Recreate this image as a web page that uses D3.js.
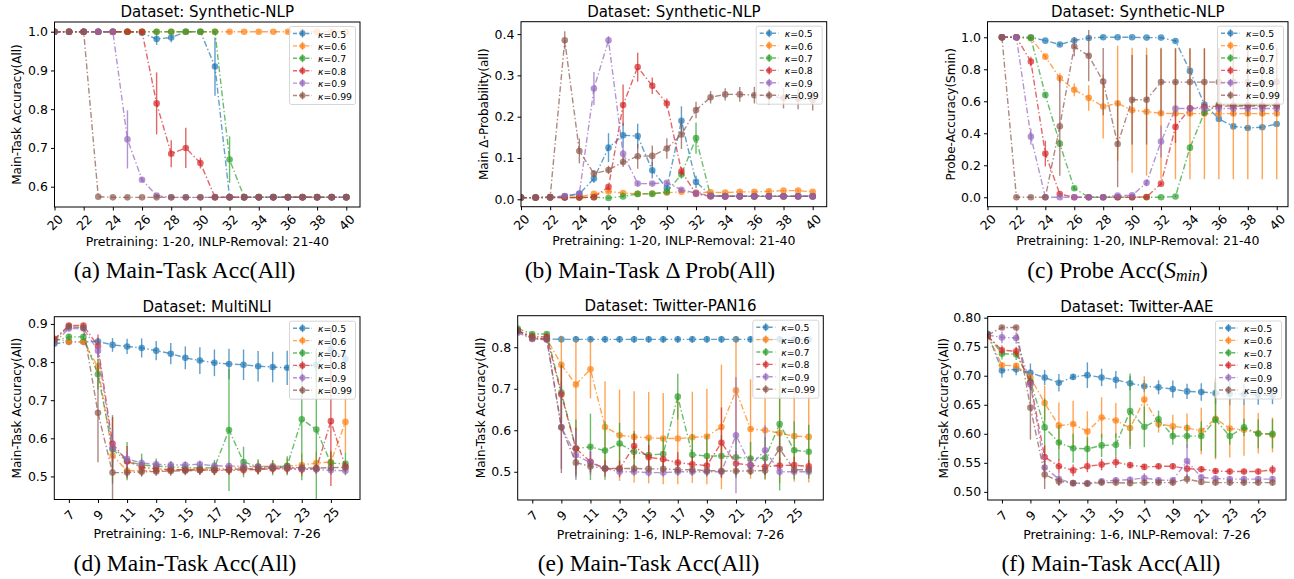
<!DOCTYPE html>
<html>
<head>
<meta charset="utf-8">
<script src="https://cdn.jsdelivr.net/npm/d3@7"></script>
<style>
  body { margin: 0; background: #fff; }
  text { font-family: "DejaVu Sans", sans-serif; }
</style>
</head>
<body>
<svg width="1294" height="579"></svg>
<script>

const kappas = ["0.5", "0.6", "0.7", "0.8", "0.9", "0.99"];
const colors = ["#1f77b4", "#ff7f0e", "#2ca02c", "#d62728", "#9467bd", "#8c564b"];

// x values (epochs)
const synthEpochs = [20,21,22,23,24,25,26,27,28,29,30,31,32,33,34,35,36,37,38,39,40];
const probeEpochs = [21,22,23,24,25,26,27,28,29,30,31,32,33,34,35,36,37,38,39,40];
const realEpochs  = [6,7,8,9,10,11,12,13,14,15,16,17,18,19,20,21,22,23,24,25,26];

const synthTicks = [20,22,24,26,28,30,32,34,36,38,40];
const realTicks  = [7,9,11,13,15,17,19,21,23,25];

// (a) Synthetic-NLP main-task accuracy, one row per kappa
const synthAcc = [
  [1,1,1,1,1,1,0.997,0.981,0.985,1,1,0.91,0.573,0.573,0.573,0.573,0.573,0.573,0.573,0.573,0.573],
  [1,1,1,1,1,1,1,1,1,1,1,1,1,1,1,1,1,1,1,1,1],
  [1,1,1,1,1,1,1,1,1,1,1,1,0.67,0.573,0.573,0.573,0.573,0.573,0.573,0.573,0.573],
  [1,1,1,1,1,1,1,0.815,0.685,0.70,0.661,0.573,0.573,0.573,0.573,0.573,0.573,0.573,0.573,0.573,0.573],
  [1,1,1,1,1,0.722,0.618,0.577,0.5725,0.5725,0.5725,0.5725,0.5725,0.5725,0.5725,0.5725,0.5725,0.5725,0.5725,0.5725,0.5725],
  [1,1,1,0.574,0.5725,0.5725,0.5725,0.5725,0.5725,0.5725,0.5725,0.5725,0.5725,0.5725,0.5725,0.5725,0.5725,0.5725,0.5725,0.5725,0.5725]
];
const synthAccErr = [
  [0,0,0,0,0,0,0.004,0.015,0.012,0,0,0.075,0,0,0,0,0,0,0,0,0],
  [0,0,0,0,0,0,0,0,0,0,0,0,0,0,0,0,0,0,0,0,0],
  [0,0,0,0,0,0,0,0,0,0,0,0,0.06,0,0,0,0,0,0,0,0],
  [0,0,0,0,0,0,0,0.08,0.035,0.052,0.014,0,0,0,0,0,0,0,0,0,0],
  [0,0,0,0,0,0.075,0.005,0.003,0,0,0,0,0,0,0,0,0,0,0,0,0],
  [0,0,0,0,0,0,0,0,0,0,0,0,0,0,0,0,0,0,0,0,0]
];

// (b) Synthetic-NLP main delta-probability
const synthDelta = [
  [0.004,0.004,0.005,0.007,0.013,0.05,0.125,0.155,0.153,0.07,0.027,0.19,0.042,0.01,0.008,0.008,0.008,0.008,0.008,0.008,0.008],
  [0.004,0.004,0.005,0.005,0.006,0.013,0.019,0.015,0.013,0.014,0.016,0.018,0.016,0.017,0.016,0.018,0.018,0.019,0.021,0.021,0.018],
  [0.004,0.004,0.004,0.004,0.004,0.005,0.003,0.007,0.013,0.013,0.018,0.06,0.148,0.008,0.007,0.007,0.007,0.007,0.007,0.007,0.007],
  [0.004,0.004,0.004,0.004,0.004,0.005,0.03,0.228,0.32,0.275,0.232,0.068,0.013,0.007,0.007,0.007,0.007,0.007,0.007,0.007,0.007],
  [0.004,0.004,0.005,0.008,0.014,0.268,0.385,0.11,0.038,0.038,0.04,0.023,0.015,0.008,0.007,0.007,0.007,0.007,0.007,0.007,0.007],
  [0.004,0.004,0.006,0.385,0.117,0.062,0.071,0.09,0.104,0.105,0.123,0.157,0.216,0.247,0.254,0.254,0.252,0.25,0.245,0.243,0.24]
];
const synthDeltaErr = [
  [0,0,0,0,0.003,0.01,0.035,0.03,0.03,0.02,0.006,0.035,0.015,0.002,0.002,0.002,0.002,0.002,0.002,0.002,0.002],
  [0,0,0,0,0,0.003,0.004,0.003,0.002,0.002,0.003,0.003,0.003,0.003,0.003,0.003,0.003,0.003,0.003,0.003,0.003],
  [0,0,0,0,0,0,0,0.002,0.002,0.002,0.004,0.01,0.038,0.002,0.002,0.002,0.002,0.002,0.002,0.002,0.002],
  [0,0,0,0,0,0,0.006,0.05,0.035,0.02,0.012,0.01,0.003,0.002,0.002,0.002,0.002,0.002,0.002,0.002,0.002],
  [0,0,0,0.002,0.004,0.04,0.01,0.015,0.005,0.004,0.004,0.004,0.003,0.002,0.002,0.002,0.002,0.002,0.002,0.002,0.002],
  [0,0,0.002,0.022,0.03,0.008,0.01,0.012,0.03,0.025,0.025,0.035,0.02,0.015,0.015,0.018,0.02,0.022,0.025,0.025,0.025]
];

// (c) Synthetic-NLP probe accuracy (S_min)
const synthProbe = [
  [1,1,1,0.979,0.955,0.98,0.996,1,1,1,0.998,0.998,0.977,0.79,0.58,0.49,0.443,0.433,0.438,0.458],
  [1,1,0.995,0.879,0.745,0.672,0.621,0.567,0.587,0.544,0.535,0.525,0.523,0.523,0.523,0.523,0.523,0.523,0.523,0.523],
  [1,1,0.995,0.64,0.335,0.056,0,0,0,0,0,0,0.005,0.31,0.53,0.58,0.575,0.575,0.575,0.575],
  [1,1,0.848,0.273,0.02,0,0,0,0,0,0.002,0.085,0.44,0.556,0.565,0.57,0.57,0.57,0.57,0.57],
  [1,1,0.379,0,0,0,0,0,0.01,0.012,0.09,0.348,0.555,0.555,0.555,0.555,0.555,0.555,0.555,0.555],
  [1,0,0,0,0.444,0.942,0.885,0.723,0.333,0.61,0.61,0.72,0.72,0.72,0.72,0.72,0.72,0.72,0.72,0.72]
];
const synthProbeErr = [
  [0,0,0,0.005,0.008,0.01,0.005,0,0,0,0.003,0.003,0.008,0.02,0.02,0.015,0.012,0.01,0.01,0.01],
  [0,0,0.003,0.01,0.03,0.04,0.08,0.2,0.36,0.39,0.4,0.41,0.41,0.41,0.41,0.41,0.41,0.41,0.41,0.41],
  [0,0,0.005,0.01,0.02,0.01,0,0,0,0,0,0,0.003,0.02,0.02,0.01,0.005,0.005,0.005,0.005],
  [0,0,0.03,0.08,0.01,0,0,0,0,0,0.002,0.01,0.1,0.02,0.01,0.005,0.005,0.005,0.005,0.005],
  [0,0,0.05,0,0,0,0,0,0.005,0.005,0.02,0.1,0.01,0.005,0.005,0.005,0.005,0.005,0.005,0.005],
  [0,0,0,0,0.31,0.06,0.16,0.21,0.27,0.28,0.28,0.21,0.21,0.21,0.21,0.21,0.21,0.21,0.21,0.21]
];

// (d) MultiNLI main-task accuracy
const mnliAcc = [
  [0.848,0.853,0.853,0.854,0.845,0.841,0.837,0.83,0.822,0.811,0.804,0.798,0.795,0.793,0.789,0.787,0.785,0.79,0.792,0.835,0.808],
  [0.862,0.853,0.853,0.788,0.555,0.515,0.515,0.515,0.517,0.518,0.519,0.52,0.522,0.524,0.526,0.527,0.527,0.53,0.535,0.538,0.643],
  [0.855,0.866,0.866,0.768,0.571,0.54,0.53,0.527,0.525,0.523,0.522,0.523,0.622,0.538,0.525,0.523,0.528,0.65,0.623,0.535,0.533],
  [0.86,0.896,0.896,0.842,0.586,0.54,0.524,0.52,0.518,0.517,0.517,0.516,0.516,0.517,0.518,0.52,0.52,0.518,0.52,0.645,0.525],
  [0.85,0.888,0.888,0.83,0.575,0.546,0.535,0.532,0.53,0.53,0.532,0.528,0.527,0.527,0.526,0.525,0.523,0.52,0.518,0.516,0.515],
  [0.857,0.893,0.89,0.667,0.51,0.51,0.512,0.513,0.514,0.515,0.516,0.517,0.518,0.52,0.52,0.522,0.523,0.523,0.522,0.523,0.524]
];
const mnliAccErr = [
  [0.005,0.005,0.005,0.01,0.018,0.02,0.025,0.025,0.028,0.03,0.035,0.035,0.04,0.04,0.04,0.04,0.045,0.045,0.045,0.045,0.03],
  [0.005,0.005,0.005,0.02,0.02,0.01,0.008,0.008,0.008,0.008,0.01,0.01,0.012,0.012,0.015,0.015,0.02,0.03,0.03,0.03,0.08],
  [0.005,0.008,0.008,0.04,0.09,0.05,0.03,0.02,0.015,0.015,0.015,0.02,0.16,0.04,0.02,0.02,0.025,0.16,0.2,0.03,0.03],
  [0.005,0.006,0.006,0.03,0.07,0.04,0.015,0.012,0.012,0.012,0.012,0.012,0.012,0.012,0.012,0.012,0.012,0.012,0.012,0.17,0.012],
  [0.005,0.006,0.006,0.02,0.05,0.02,0.012,0.01,0.01,0.01,0.01,0.01,0.01,0.01,0.01,0.01,0.01,0.01,0.01,0.01,0.01],
  [0.005,0.006,0.006,0.13,0.07,0.015,0.012,0.012,0.012,0.012,0.012,0.012,0.012,0.012,0.012,0.012,0.012,0.012,0.012,0.012,0.012]
];

// (e) Twitter-PAN16 main-task accuracy
const panAcc = [
  [0.84,0.822,0.82,0.819,0.819,0.819,0.819,0.819,0.819,0.819,0.819,0.819,0.819,0.819,0.819,0.819,0.819,0.819,0.819,0.819,0.819],
  [0.84,0.82,0.82,0.758,0.71,0.747,0.608,0.588,0.584,0.582,0.58,0.58,0.583,0.585,0.608,0.696,0.603,0.6,0.593,0.586,0.584],
  [0.845,0.832,0.832,0.691,0.556,0.56,0.551,0.568,0.548,0.54,0.543,0.681,0.541,0.538,0.538,0.535,0.532,0.533,0.615,0.552,0.548],
  [0.84,0.826,0.825,0.686,0.556,0.524,0.508,0.507,0.562,0.535,0.53,0.522,0.518,0.515,0.57,0.52,0.516,0.512,0.515,0.516,0.513],
  [0.835,0.82,0.818,0.607,0.54,0.522,0.508,0.5,0.5,0.498,0.498,0.5,0.5,0.5,0.5,0.588,0.515,0.552,0.5,0.5,0.5],
  [0.84,0.823,0.82,0.607,0.522,0.513,0.508,0.508,0.508,0.507,0.507,0.505,0.505,0.503,0.502,0.502,0.502,0.503,0.555,0.505,0.505]
];
const panAccErr = [
  [0.005,0.008,0.008,0.008,0.008,0.008,0.008,0.008,0.008,0.008,0.008,0.008,0.008,0.008,0.008,0.008,0.008,0.008,0.008,0.008,0.008],
  [0.005,0.005,0.005,0.07,0.11,0.07,0.11,0.11,0.11,0.11,0.11,0.11,0.11,0.115,0.15,0.13,0.12,0.12,0.12,0.11,0.11],
  [0.005,0.005,0.005,0.07,0.07,0.08,0.07,0.05,0.05,0.04,0.04,0.055,0.05,0.05,0.05,0.05,0.04,0.05,0.16,0.07,0.065],
  [0.005,0.005,0.005,0.07,0.05,0.025,0.02,0.02,0.03,0.03,0.02,0.025,0.02,0.02,0.085,0.03,0.02,0.02,0.02,0.02,0.015],
  [0.005,0.005,0.005,0.1,0.06,0.03,0.01,0.01,0.01,0.01,0.01,0.01,0.01,0.01,0.01,0.14,0.02,0.06,0.01,0.01,0.01],
  [0.005,0.005,0.005,0.11,0.03,0.015,0.01,0.01,0.01,0.01,0.01,0.01,0.01,0.01,0.01,0.01,0.01,0.01,0.04,0.01,0.01]
];

// (f) Twitter-AAE main-task accuracy
const aaeAcc = [
  [0.772,0.709,0.711,0.705,0.697,0.688,0.698,0.701,0.697,0.693,0.687,0.682,0.68,0.677,0.673,0.672,0.67,0.669,0.668,0.667,0.666],
  [0.77,0.718,0.717,0.697,0.653,0.614,0.617,0.604,0.628,0.623,0.61,0.659,0.617,0.613,0.61,0.605,0.626,0.609,0.607,0.601,0.598],
  [0.77,0.738,0.737,0.69,0.611,0.585,0.575,0.574,0.58,0.581,0.639,0.612,0.625,0.596,0.596,0.596,0.624,0.596,0.611,0.6,0.6],
  [0.768,0.744,0.742,0.688,0.56,0.544,0.537,0.544,0.547,0.551,0.546,0.543,0.544,0.544,0.54,0.539,0.536,0.535,0.535,0.535,0.538],
  [0.77,0.766,0.765,0.685,0.542,0.522,0.515,0.515,0.518,0.52,0.521,0.524,0.52,0.52,0.553,0.525,0.523,0.522,0.522,0.522,0.522],
  [0.77,0.783,0.783,0.645,0.53,0.518,0.515,0.514,0.516,0.516,0.515,0.516,0.516,0.516,0.522,0.517,0.516,0.516,0.516,0.516,0.516]
];
const aaeAccErr = [
  [0.003,0.012,0.01,0.016,0.013,0.015,0.005,0.022,0.015,0.015,0.012,0.01,0.012,0.015,0.013,0.015,0.018,0.02,0.018,0.017,0.015],
  [0.003,0.005,0.005,0.01,0.03,0.04,0.04,0.035,0.035,0.03,0.03,0.04,0.015,0.02,0.025,0.04,0.07,0.05,0.045,0.035,0.03],
  [0.003,0.01,0.01,0.01,0.05,0.03,0.025,0.02,0.02,0.02,0.065,0.035,0.015,0.015,0.02,0.025,0.065,0.015,0.015,0.025,0.025],
  [0.003,0.008,0.008,0.01,0.02,0.012,0.01,0.01,0.01,0.01,0.005,0.005,0.005,0.005,0.005,0.005,0.005,0.005,0.005,0.005,0.008],
  [0.003,0.01,0.01,0.01,0.02,0.01,0.005,0.005,0.005,0.005,0.005,0.008,0.005,0.005,0.03,0.005,0.005,0.005,0.005,0.005,0.005],
  [0.003,0.003,0.003,0.055,0.025,0.008,0.005,0.005,0.005,0.005,0.005,0.005,0.005,0.005,0.008,0.005,0.005,0.005,0.005,0.005,0.005]
];

const synthXLabel = "Pretraining: 1-20, INLP-Removal: 21-40";
const realXLabel = "Pretraining: 1-6, INLP-Removal: 7-26";

const panels = [
  {id: "a", xs: synthEpochs, vals: synthAcc, errs: synthAccErr, title: "Dataset: Synthetic-NLP",
   ylabel: "Main-Task Accuracy(All)", xlabel: synthXLabel, xticks: synthTicks,
   yticks: [0.6,0.7,0.8,0.9,1.0], yfmt: ".1f", xdom: [20, 40.94], ydom: [0.5476, 1.025],
   left: 54.5, right: 360, top: 22, bottom: 207, ylabX: 17, cap: {x: 184.5, y: 270}},
  {id: "b", xs: synthEpochs, vals: synthDelta, errs: synthDeltaErr, title: "Dataset: Synthetic-NLP",
   ylabel: "Main \u0394-Probability(all)", xlabel: synthXLabel, xticks: synthTicks,
   yticks: [0,0.1,0.2,0.3,0.4], yfmt: ".1f", xdom: [20, 40.96], ydom: [-0.018, 0.43],
   left: 521, right: 826.7, top: 21.7, bottom: 206.7, ylabX: 484, cap: {x: 650, y: 270}},
  {id: "c", xs: probeEpochs, vals: synthProbe, errs: synthProbeErr, title: "Dataset: Synthetic-NLP",
   ylabel: "Probe-Accuracy(Smin)", xlabel: synthXLabel, xticks: synthTicks,
   yticks: [0,0.2,0.4,0.6,0.8,1.0], yfmt: ".1f", xdom: [20, 40.78], ydom: [-0.059, 1.0975],
   left: 987.5, right: 1288, top: 21.7, bottom: 206.7, ylabX: 951, cap: {x: 1117.5, y: 270}},
  {id: "d", xs: realEpochs, vals: mnliAcc, errs: mnliAccErr, title: "Dataset: MultiNLI",
   ylabel: "Main-Task Accuracy(All)", xlabel: realXLabel, xticks: realTicks,
   yticks: [0.5,0.6,0.7,0.8,0.9], yfmt: ".1f", xdom: [6, 27], ydom: [0.4395, 0.919],
   left: 54.3, right: 360, top: 316.7, bottom: 499.5, ylabX: 17, cap: {x: 185, y: 563}},
  {id: "e", xs: realEpochs, vals: panAcc, errs: panAccErr, title: "Dataset: Twitter-PAN16",
   ylabel: "Main-Task Accuracy(All)", xlabel: realXLabel, xticks: realTicks,
   yticks: [0.5,0.6,0.7,0.8], yfmt: ".1f", xdom: [6, 27], ydom: [0.432, 0.876],
   left: 517.7, right: 823.3, top: 315.7, bottom: 500, ylabX: 481, cap: {x: 648.5, y: 563}},
  {id: "f", xs: realEpochs, vals: aaeAcc, errs: aaeAccErr, title: "Dataset: Twitter-AAE",
   ylabel: "Main-Task Accuracy(All)", xlabel: realXLabel, xticks: realTicks,
   yticks: [0.5,0.55,0.6,0.65,0.7,0.75,0.8], yfmt: ".2f", xdom: [6, 26.95], ydom: [0.486, 0.802],
   left: 987.7, right: 1286, top: 316.5, bottom: 500, ylabX: 944, cap: {x: 1111, y: 563}}
];

const captions = {
  a: [["(a) Main-Task Acc(All)"]],
  b: [["(b) Main-Task \u0394 Prob(All)"]],
  c: [["(c) Probe Acc("], ["S", "i"], ["min", "sub"], [")"]],
  d: [["(d) Main-Task Acc(All)"]],
  e: [["(e) Main-Task Acc(All)"]],
  f: [["(f) Main-Task Acc(All)"]]
};

const svg = d3.select("svg");
const dashes = "6,2.4,1.4,2.4";
const alpha = 0.7;

function drawPanel(p) {
  const g = svg.append("g");
  const x = d3.scaleLinear().domain(p.xdom).range([p.left, p.right]);
  const y = d3.scaleLinear().domain(p.ydom).range([p.bottom, p.top]);

  g.append("clipPath").attr("id", "clip-" + p.id)
    .append("rect")
      .attr("x", p.left).attr("y", p.top)
      .attr("width", p.right - p.left).attr("height", p.bottom - p.top);

  const plot = g.append("g").attr("clip-path", `url(#clip-${p.id})`);

  const line = d3.line().x(d => x(d.x)).y(d => y(d.v));

  p.vals.forEach((vals, k) => {
    const pts = p.xs.map((xv, i) => ({x: xv, v: vals[i], e: p.errs[k][i]}));
    const sg = plot.append("g");

    sg.append("path").datum(pts)
      .attr("d", line)
      .attr("fill", "none")
      .attr("stroke", colors[k])
      .attr("stroke-width", 1.4)
      .attr("stroke-dasharray", dashes)
      .attr("opacity", alpha);

    sg.selectAll(".err").data(pts.filter(d => d.e > 0)).enter().append("line")
      .attr("class", "err")
      .attr("x1", d => x(d.x)).attr("x2", d => x(d.x))
      .attr("y1", d => y(d.v - d.e)).attr("y2", d => y(d.v + d.e))
      .attr("stroke", colors[k])
      .attr("stroke-width", 1.4)
      .attr("opacity", alpha);

    sg.selectAll(".dot").data(pts).enter().append("circle")
      .attr("class", "dot")
      .attr("cx", d => x(d.x)).attr("cy", d => y(d.v))
      .attr("r", 3.3)
      .attr("fill", colors[k])
      .attr("opacity", alpha);
  });

  // axes
  const xAxis = g.append("g")
    .attr("transform", `translate(0,${p.bottom})`)
    .call(d3.axisBottom(x).tickValues(p.xticks).tickSize(3.5).tickFormat(d3.format("d")));
  xAxis.select(".domain").remove();
  xAxis.selectAll("text")
    .attr("y", null).attr("dy", null)
    .attr("transform", "translate(0,15.5) rotate(-45)")
    .attr("dominant-baseline", "central")
    .style("text-anchor", "middle")
    .style("font-size", "12.5px")
    .attr("fill", "#000");

  const yAxis = g.append("g")
    .attr("transform", `translate(${p.left},0)`)
    .call(d3.axisLeft(y).tickValues(p.yticks).tickSize(3.5).tickPadding(3).tickFormat(d3.format(p.yfmt)));
  yAxis.select(".domain").remove();
  yAxis.selectAll("text").style("font-size", "12.5px").attr("fill", "#000");

  g.append("rect")
    .attr("x", p.left).attr("y", p.top)
    .attr("width", p.right - p.left).attr("height", p.bottom - p.top)
    .attr("fill", "none").attr("stroke", "#000").attr("stroke-width", 1);

  // labels
  g.append("text")
    .attr("x", (p.left + p.right) / 2).attr("y", p.top - 5)
    .attr("text-anchor", "middle")
    .style("font-size", "15px")
    .text(p.title);

  g.append("text")
    .attr("x", (p.left + p.right) / 2).attr("y", p.bottom + 38.5)
    .attr("text-anchor", "middle")
    .style("font-size", "12.5px")
    .text(p.xlabel);

  g.append("text")
    .attr("transform", `translate(${p.ylabX},${(p.top + p.bottom) / 2}) rotate(-90)`)
    .attr("text-anchor", "middle")
    .attr("dominant-baseline", "central")
    .style("font-size", "12px")
    .text(p.ylabel);

  // legend
  const lw = 66, lh = 78, rowH = 12.4;
  const lg = g.append("g")
    .attr("transform", `translate(${p.right - 4.5 - lw},${p.top + 4.5})`);
  lg.append("rect")
    .attr("width", lw).attr("height", lh).attr("rx", 2)
    .attr("fill", "#fff").attr("fill-opacity", 0.8)
    .attr("stroke", "#ccc").attr("stroke-width", 0.8);

  const rows = lg.selectAll(".row").data(kappas).enter().append("g")
    .attr("class", "row")
    .attr("transform", (d, i) => `translate(0,${7 + i * rowH})`);
  rows.append("line")
    .attr("x1", 3.5).attr("x2", 22.5).attr("y1", 0).attr("y2", 0)
    .attr("stroke", (d, i) => colors[i]).attr("stroke-width", 1.4)
    .attr("stroke-dasharray", "4,2.2").attr("opacity", alpha);
  rows.append("line")
    .attr("x1", 13).attr("x2", 13).attr("y1", -4).attr("y2", 4)
    .attr("stroke", (d, i) => colors[i]).attr("stroke-width", 1.4).attr("opacity", alpha);
  rows.append("circle")
    .attr("cx", 13).attr("cy", 0).attr("r", 3)
    .attr("fill", (d, i) => colors[i]).attr("opacity", alpha);
  const lt = rows.append("text")
    .attr("x", 28.5).attr("y", 0)
    .attr("dominant-baseline", "central")
    .style("font-size", "9.3px");
  lt.append("tspan").style("font-style", "italic").text("\u03ba");
  lt.append("tspan").text(d => "=" + d);

  // caption
  const cap = svg.append("text")
    .attr("x", p.cap.x).attr("y", p.cap.y)
    .attr("text-anchor", "middle")
    .attr("dominant-baseline", "central")
    .style("font-family", "'Liberation Serif', 'Times New Roman', serif")
    .style("font-size", "23.5px");
  captions[p.id].forEach(part => {
    const t = cap.append("tspan").text(part[0]);
    if (part[1] === "i") t.style("font-style", "italic");
    if (part[1] === "sub") t.style("font-style", "italic").style("font-size", "16px").attr("dy", 5);
    if (part[0] === ")" && captions[p.id].length > 1) t.attr("dy", -5);
  });
}

panels.forEach(drawPanel);

</script>
</body>
</html>
